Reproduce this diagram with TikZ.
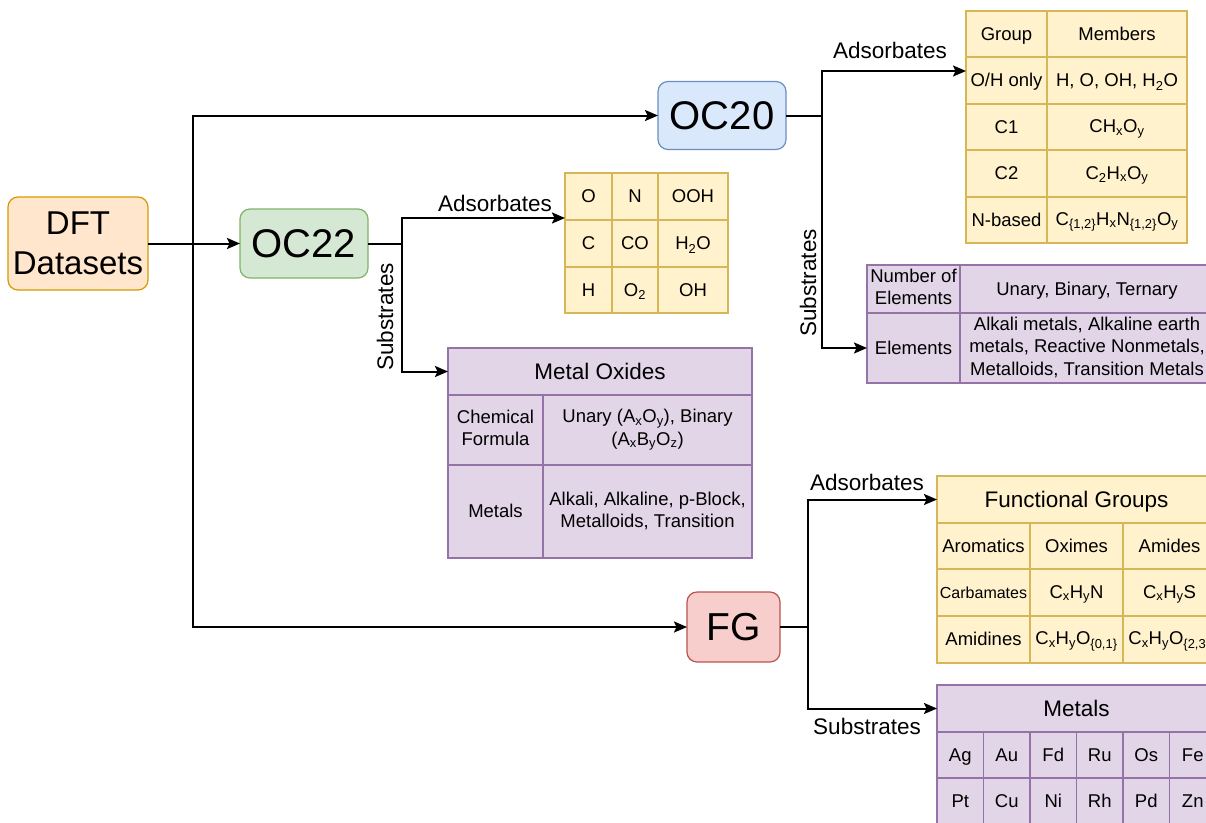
\documentclass[tikz,border=0pt]{standalone}
\usepackage{fontspec}
\setmainfont{Liberation Sans}
\usetikzlibrary{arrows.meta}

\definecolor{tabY}{HTML}{FFF2CC}
\definecolor{tabYline}{HTML}{D6B656}
\definecolor{tabP}{HTML}{E1D5E7}
\definecolor{tabPline}{HTML}{9673A6}
\definecolor{dftFill}{HTML}{FFE6CC}
\definecolor{dftLine}{HTML}{D79B00}
\definecolor{ocaFill}{HTML}{D5E8D4}
\definecolor{ocaLine}{HTML}{82B366}
\definecolor{ocbFill}{HTML}{DAE8FC}
\definecolor{ocbLine}{HTML}{6C8EBF}
\definecolor{fgFill}{HTML}{F8CECC}
\definecolor{fgLine}{HTML}{B85450}

% strut matching the font's ascent and descent, so every text sits centred
\newcommand{\fontstrut}{\vrule height 0.905em depth 0.212em width 0pt\relax}

\tikzset{
  box/.style={rounded corners=10pt, line width=1.2pt, inner sep=0pt, outer sep=0pt, align=center},
  cellbase/.style={rectangle, line width=1.1pt, inner sep=0pt, outer sep=0pt,
    align=center, font=\fontsize{18.5}{22.5}\selectfont,
    execute at begin node=\fontstrut, execute at end node=\fontstrut},
  ycell/.style={cellbase, fill=tabY, draw=tabYline},
  pcell/.style={cellbase, fill=tabP, draw=tabPline},
  headfont/.style={font=\fontsize{22.5}{26}\selectfont},
  lbl/.style={font=\fontsize{22.5}{26}\selectfont, inner sep=0pt},
  link/.style={line width=2pt, black},
  arr/.style={link, -{Stealth[length=13pt,width=11pt,inset=2.5pt]}},
}

% one table cell from its corners: style, name, x0, y0, x1, y1, text
\newcommand{\tabcell}[7]{%
  \node[#1, minimum width={(#5)-(#3)}, minimum height={(#6)-(#4)}] (#2)
    at ({((#3)+(#5))/2},{((#4)+(#6))/2}) {#7};}

\begin{document}
\begin{tikzpicture}[x=1pt, y=-1pt]
\path[use as bounding box, fill=white] (0,0) rectangle (1206,822);
\clip (0,0) rectangle (1206,822);

% main boxes
\node[box, fill=dftFill, draw=dftLine, minimum width=140pt, minimum height=93pt,
  font=\fontsize{33}{40}\selectfont] (dft) at (78,243.5) {DFT\\Datasets};
\node[box, fill=ocaFill, draw=ocaLine, minimum width=128pt, minimum height=69pt,
  font=\fontsize{40}{44}\selectfont] (oc22) at (304,243.5) {OC22};
\node[box, fill=ocbFill, draw=ocbLine, minimum width=128pt, minimum height=68pt,
  font=\fontsize{40}{44}\selectfont] (oc20) at (722,115.5) {OC20};
\node[box, fill=fgFill, draw=fgLine, minimum width=93pt, minimum height=70pt,
  font=\fontsize{39}{44}\selectfont] (fg) at (733.5,627) {FG};

% OC20 adsorbates table
\tabcell{ycell}{a0}{966}{11}{1047}{57}{Group}
\tabcell{ycell}{a1}{1047}{11}{1187}{57}{Members}
\tabcell{ycell}{a2}{966}{57}{1047}{104}{O/H only}
\tabcell{ycell}{a3}{1047}{57}{1187}{104}{H, O, OH, H\textsubscript{2}O}
\tabcell{ycell}{a4}{966}{104}{1047}{150}{C1}
\tabcell{ycell}{a5}{1047}{104}{1187}{150}{CH\textsubscript{x}O\textsubscript{y}}
\tabcell{ycell}{a6}{966}{150}{1047}{197}{C2}
\tabcell{ycell}{a7}{1047}{150}{1187}{197}{C\textsubscript{2}H\textsubscript{x}O\textsubscript{y}}
\tabcell{ycell}{a8}{966}{197}{1047}{243}{N-based}
\tabcell{ycell}{a9}{1047}{197}{1187}{243}{C\textsubscript{\{1,2\}}H\textsubscript{x}N\textsubscript{\{1,2\}}O\textsubscript{y}}

% OC20 substrates table
\tabcell{pcell}{b0}{867}{265}{960}{313}{Number of\\Elements}
\tabcell{pcell}{b1}{960}{265}{1214}{313}{Unary, Binary, Ternary}
\tabcell{pcell}{b2}{867}{313}{960}{383}{Elements}
\tabcell{pcell}{b3}{960}{313}{1214}{383}{Alkali metals, Alkaline earth\\metals, Reactive Nonmetals,\\Metalloids, Transition Metals}

% OC22 adsorbates table
\tabcell{ycell}{c0}{565}{173}{612}{220}{O}
\tabcell{ycell}{c1}{612}{173}{658}{220}{N}
\tabcell{ycell}{c2}{658}{173}{728}{220}{OOH}
\tabcell{ycell}{c3}{565}{220}{612}{267}{C}
\tabcell{ycell}{c4}{612}{220}{658}{267}{CO}
\tabcell{ycell}{c5}{658}{220}{728}{267}{H\textsubscript{2}O}
\tabcell{ycell}{c6}{565}{267}{612}{313}{H}
\tabcell{ycell}{c7}{612}{267}{658}{313}{O\textsubscript{2}}
\tabcell{ycell}{c8}{658}{267}{728}{313}{OH}

% OC22 substrates table
\tabcell{pcell, headfont}{d0}{448}{348}{752}{395}{Metal Oxides}
\tabcell{pcell}{d1}{448}{395}{543}{465}{Chemical\\Formula}
\tabcell{pcell}{d2}{543}{395}{752}{465}{Unary (A\textsubscript{x}O\textsubscript{y}), Binary\\(A\textsubscript{x}B\textsubscript{y}O\textsubscript{z})}
\tabcell{pcell}{d3}{448}{465}{543}{558}{Metals}
\tabcell{pcell}{d4}{543}{465}{752}{558}{Alkali, Alkaline, p-Block,\\Metalloids, Transition}

% FG adsorbates table
\tabcell{ycell, headfont}{e0}{937}{476}{1216}{523}{Functional Groups}
\tabcell{ycell}{e1}{937}{523}{1030}{569}{Aromatics}
\tabcell{ycell}{e2}{1030}{523}{1123}{569}{Oximes}
\tabcell{ycell}{e3}{1123}{523}{1216}{569}{Amides}
\tabcell{ycell, font=\fontsize{16}{20}\selectfont}{e4}{937}{569}{1030}{616}{Carbamates}
\tabcell{ycell}{e5}{1030}{569}{1123}{616}{C\textsubscript{x}H\textsubscript{y}N}
\tabcell{ycell}{e6}{1123}{569}{1216}{616}{C\textsubscript{x}H\textsubscript{y}S}
\tabcell{ycell}{e7}{937}{616}{1030}{663}{Amidines}
\tabcell{ycell}{e8}{1030}{616}{1123}{663}{C\textsubscript{x}H\textsubscript{y}O\textsubscript{\{0,1\}}}
\tabcell{ycell}{e9}{1123}{616}{1216}{663}{C\textsubscript{x}H\textsubscript{y}O\textsubscript{\{2,3\}}}

% FG substrates table
\tabcell{pcell, headfont}{f0}{937}{685}{1216}{732}{Metals}
\foreach \m [count=\i from 0] in {Ag,Au,Fd,Ru,Os,Fe}{
  \tabcell{pcell}{fa\i}{937+46.5*\i}{732}{983.5+46.5*\i}{778}{\m}}
\foreach \m [count=\i from 0] in {Pt,Cu,Ni,Rh,Pd,Zn}{
  \tabcell{pcell}{fb\i}{937+46.5*\i}{778}{983.5+46.5*\i}{825}{\m}}

% junctions and arrow entry points
\coordinate (j0) at (193,243.5);
\coordinate (j1) at (402,243.5);
\coordinate (j2) at (822,115.5);
\coordinate (j3) at (808,627);
\coordinate (in20) at (966,71);
\coordinate (in22) at (565,218);

% connectors
\draw[arr] (dft.east) -- (oc22.west);
\draw[arr] (j0) |- (oc20.west);
\draw[arr] (j0) |- (fg.west);

\draw[link] (oc22.east) -- (j1);
\draw[arr] (j1) |- (in22);
\draw[arr] (j1) |- (d0.west);

\draw[link] (oc20.east) -- (j2);
\draw[arr] (j2) |- (in20);
\draw[arr] (j2) |- (b2.west);

\draw[link] (fg.east) -- (j3);
\draw[arr] (j3) |- (e0.west);
\draw[arr] (j3) |- (f0.west);

% connector labels
\node[lbl] (l1) at (495,203) {Adsorbates};
\node[lbl, rotate=90] (l2) at (385,317) {Substrates};
\node[lbl] (l3) at (890,50) {Adsorbates};
\node[lbl, rotate=90] (l4) at (808,283) {Substrates};
\node[lbl] (l5) at (867,482) {Adsorbates};
\node[lbl] (l6) at (867,726) {Substrates};
\end{tikzpicture}
\end{document}
